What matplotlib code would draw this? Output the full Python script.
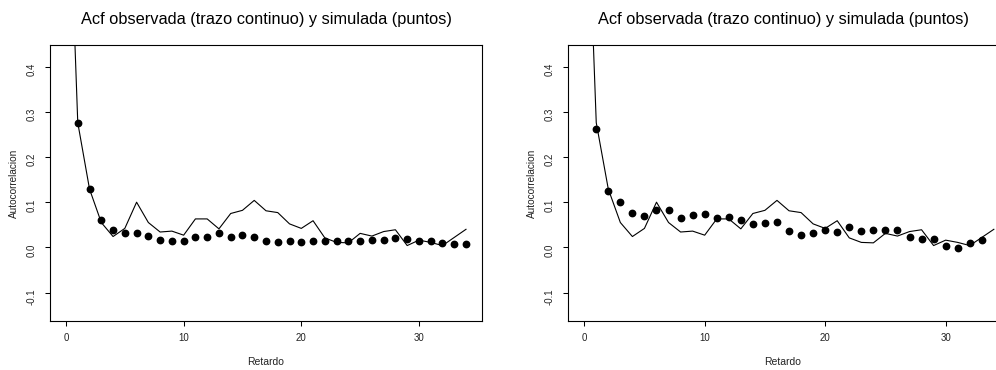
import numpy as np
import matplotlib
matplotlib.use("Agg")
import matplotlib.pyplot as plt

plt.rcParams['font.family'] = ['Liberation Sans', 'DejaVu Sans']

# acf observada (retardos 0..34)
lags_obs = list(range(0, 35))
acf_obs = [1.0, 0.276, 0.129, 0.055, 0.024, 0.042, 0.100, 0.055, 0.034, 0.036,
           0.027, 0.063, 0.063, 0.041, 0.075, 0.082, 0.104, 0.081, 0.077, 0.052,
           0.042, 0.059, 0.021, 0.011, 0.010, 0.031, 0.025, 0.035, 0.039, 0.004,
           0.016, 0.011, 0.004, 0.022, 0.040]

# acf simulada, modelo 1 (retardos 1..34)
lags_sim1 = list(range(1, 35))
acf_sim1 = [0.276, 0.129, 0.060, 0.039, 0.032, 0.032, 0.026, 0.017, 0.015, 0.015,
            0.022, 0.024, 0.031, 0.022, 0.027, 0.023, 0.013, 0.012, 0.013, 0.011,
            0.013, 0.015, 0.015, 0.015, 0.014, 0.017, 0.016, 0.020, 0.019, 0.015,
            0.013, 0.010, 0.008, 0.007]

# acf simulada, modelo 2 (retardos 1..33)
lags_sim2 = list(range(1, 34))
acf_sim2 = [0.262, 0.125, 0.100, 0.077, 0.069, 0.082, 0.083, 0.064, 0.071, 0.073,
            0.066, 0.068, 0.060, 0.051, 0.054, 0.056, 0.037, 0.027, 0.032, 0.038,
            0.034, 0.044, 0.036, 0.039, 0.038, 0.038, 0.022, 0.018, 0.019, 0.002,
            -0.002, 0.010, 0.016]

titulo = "Acf observada (trazo continuo) y simulada (puntos)"
xticks = [0, 10, 20, 30]
yticks = [-0.1, 0.0, 0.1, 0.2, 0.3, 0.4]

W, H = 996, 370
fig = plt.figure(figsize=(W / 100, H / 100), dpi=100)


def panel(left_px, width_px, xmax, lags_sim, acf_sim):
    ax = fig.add_axes([left_px / W, 1 - 321 / H, width_px / W, 276 / H])
    ax.plot(lags_obs, acf_obs, color='black', lw=0.8)
    ax.plot(lags_sim, acf_sim, 'o', color='black', ms=4.6, mec='black')
    ext = 0.04 * xmax
    ax.set_xlim(-ext, xmax + ext)
    ax.set_ylim(-0.163, 0.448)
    ax.set_xticks(xticks)
    ax.set_yticks(yticks)
    ax.set_yticklabels(["-0.1", "0.0", "0.1", "0.2", "0.3", "0.4"])
    ax.tick_params(axis='both', direction='out', length=3.6, width=0.75,
                   labelsize=6.9, color='black', labelcolor='#222222')
    ax.tick_params(axis='x', pad=5.3)
    ax.tick_params(axis='y', labelrotation=90, pad=6.3)
    for s in ax.spines.values():
        s.set_linewidth(0.8)
        s.set_color('black')
    cx = left_px + width_px / 2
    fig.text(cx / W, 1 - 24 / H, titulo, ha='center', va='baseline', fontsize=11.8)
    fig.text(cx / W, 1 - 361.7 / H, "Retardo", ha='center', va='center',
             fontsize=7.5, color='#222222')
    fig.text((left_px - 36) / W, 1 - 183 / H, "Autocorrelacion", ha='center',
             va='center', rotation=90, fontsize=7.2, color='#222222')
    return ax


panel(50, 432, 34, lags_sim1, acf_sim1)
panel(568.3, 429.4, 33, lags_sim2, acf_sim2)

fig.savefig("out.png", dpi=100)
